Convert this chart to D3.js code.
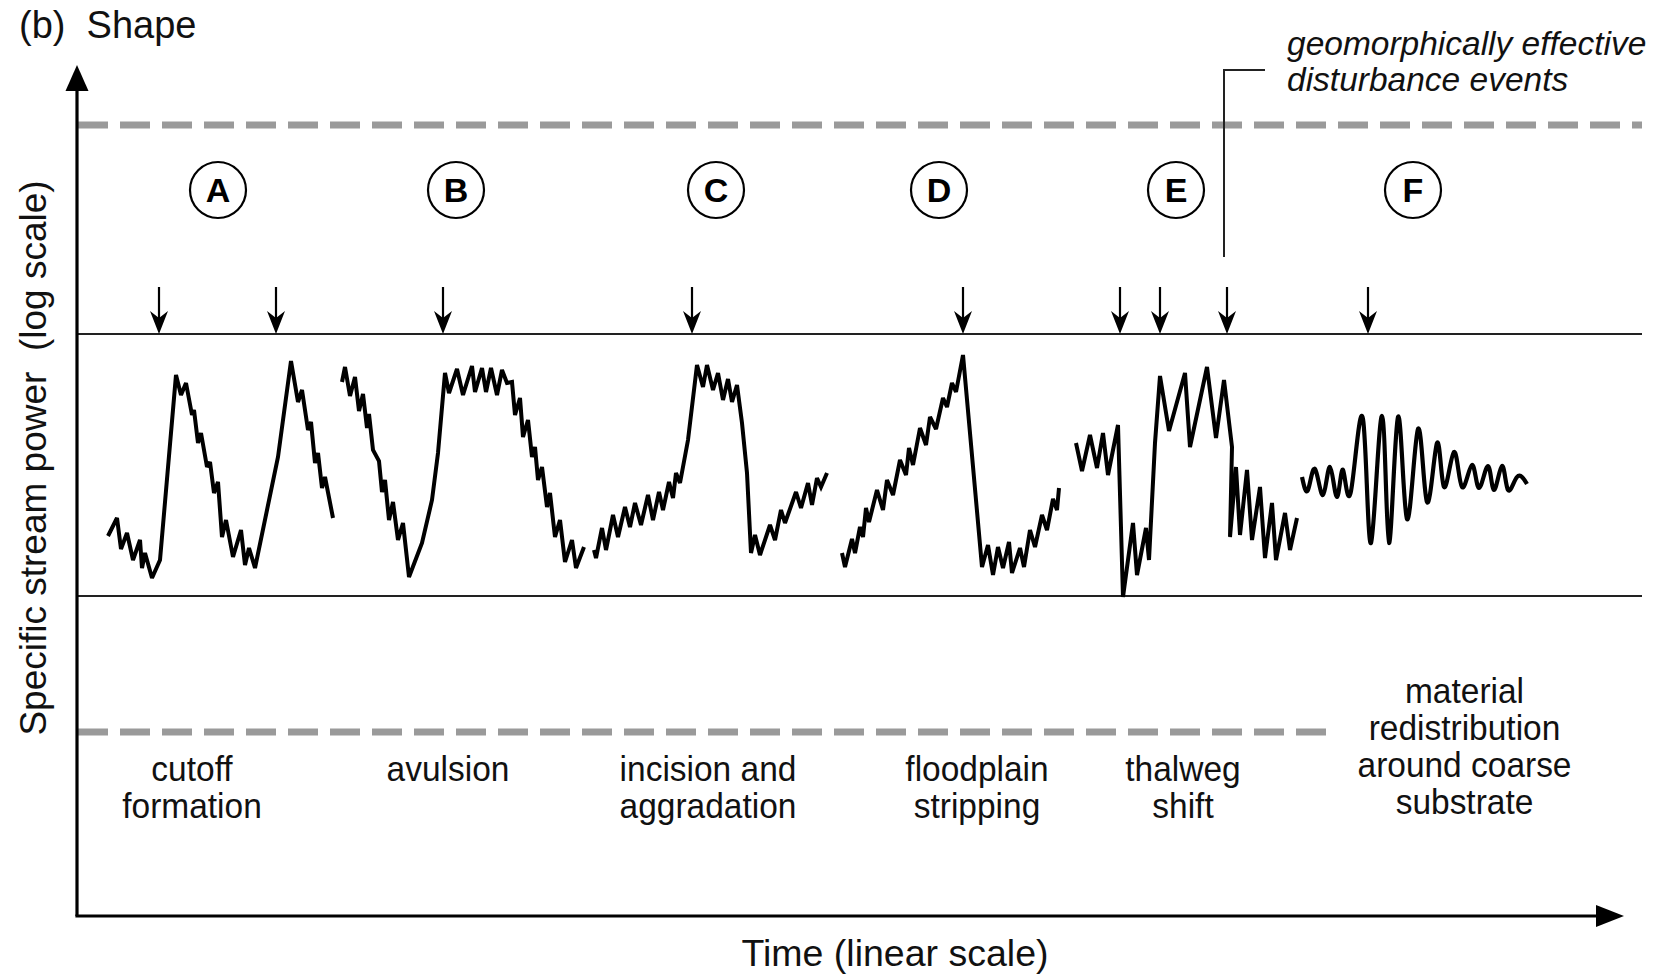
<!DOCTYPE html>
<html><head><meta charset="utf-8">
<script src="https://cdn.jsdelivr.net/npm/d3@7"></script>
<style>
html,body{margin:0;padding:0;background:#fff}
svg{display:block}
text{font-family:"Liberation Sans",Arial,Helvetica,sans-serif;fill:#111}
</style>
</head><body>
<svg id="chart" width="1664" height="975"></svg>
<script>
// ---- data (time in arbitrary units, stream power in arbitrary log units) ----
const segA = [[3.1,38.0],[4.0,39.8],[4.4,36.7],[5.0,38.3],[5.6,35.6],[6.3,37.6],[6.5,34.8],[6.8,36.3],[7.5,33.8],[8.3,35.6],[9.9,54.1],[10.4,52.1],[10.9,53.3],[11.5,50.1],[11.7,50.6],[12.1,47.3],[12.4,48.3],[13.0,44.9],[13.3,45.4],[13.7,42.3],[14.1,43.4],[14.5,37.9],[14.9,39.6],[15.6,35.9],[16.4,38.6],[16.8,35.1],[17.2,36.8],[17.8,34.8],[20.1,45.9],[21.4,55.5],[22.1,51.4],[22.5,52.6],[23.1,48.6],[23.4,49.4],[23.8,45.3],[24.1,46.3],[24.5,42.8],[24.8,43.9],[25.6,39.8]];
const segB = [[26.5,53.4],[26.8,54.9],[27.3,52.0],[27.8,53.9],[28.2,50.5],[28.6,52.2],[29.0,48.8],[29.2,50.2],[29.6,46.6],[30.2,45.5],[30.5,42.4],[30.8,43.6],[31.2,39.6],[31.6,41.4],[32.1,37.6],[32.6,39.3],[33.2,33.9],[34.5,37.3],[35.5,41.6],[36.1,46.3],[36.8,54.3],[37.2,52.3],[38.0,54.7],[38.6,52.1],[39.5,55.0],[39.8,52.4],[40.5,54.8],[40.9,52.4],[41.4,54.8],[42.0,52.1],[42.5,54.6],[43.0,53.3],[43.5,53.4],[43.8,50.1],[44.3,51.8],[44.6,47.9],[45.1,49.6],[45.5,45.9],[45.8,46.9],[46.1,43.6],[46.5,44.9],[47.0,40.9],[47.3,42.3],[47.8,37.9],[48.3,39.6],[48.8,35.4],[49.5,37.6],[49.9,34.8],[50.7,36.9]];
const segC = [[51.7,36.6],[51.9,35.8],[52.5,38.8],[52.9,36.6],[53.6,40.1],[54.1,37.9],[54.8,40.9],[55.3,38.9],[55.8,41.3],[56.4,39.1],[57.1,42.1],[57.6,39.6],[58.2,42.4],[58.6,40.6],[59.2,43.4],[59.6,41.8],[59.9,44.3],[60.3,43.3],[61.1,47.6],[62.0,55.1],[62.6,52.9],[63.0,55.1],[63.6,52.6],[64.1,54.3],[64.6,51.6],[65.1,53.7],[65.5,51.4],[66.0,53.1],[66.5,49.3],[67.0,44.3],[67.4,36.3],[67.8,38.1],[68.3,36.1],[69.3,39.1],[69.8,37.6],[70.4,40.6],[70.8,39.3],[71.9,42.4],[72.4,40.8],[73.1,43.3],[73.5,41.1],[74.0,43.8],[74.4,42.9],[75.0,44.3]];
const segD = [[76.5,36.3],[76.8,34.9],[77.5,37.7],[77.8,36.3],[78.3,38.9],[78.6,37.9],[78.9,40.8],[79.2,39.4],[80.0,42.6],[80.6,40.6],[81.0,43.6],[81.6,42.1],[82.3,45.6],[82.9,44.1],[83.2,46.8],[83.6,45.1],[84.3,48.8],[84.9,47.1],[85.3,49.9],[85.9,48.7],[86.6,51.8],[87.0,50.9],[87.5,53.3],[87.9,52.4],[88.6,56.1],[90.5,34.9],[91.1,37.1],[91.6,34.1],[92.1,36.9],[92.6,34.8],[93.2,37.4],[93.5,34.3],[94.3,36.8],[94.7,34.9],[95.3,38.6],[95.8,36.9],[96.5,40.1],[97.0,38.6],[97.6,41.7],[98.0,40.6],[98.2,42.8]];
const segE = [[99.9,47.3],[100.5,44.5],[101.3,48.1],[102.0,44.8],[102.6,48.3],[103.1,44.1],[104.1,49.1],[104.6,31.9],[105.6,39.3],[106.0,34.1],[106.9,38.8],[107.2,35.6],[107.8,47.3],[108.3,54.0],[109.2,48.5],[110.8,54.3],[111.3,46.9],[113.0,54.9],[113.9,47.8],[114.7,53.6],[115.5,46.9],[115.3,37.9],[115.9,44.9],[116.3,38.1],[117.0,44.6],[117.5,37.6],[118.3,42.9],[118.8,35.8],[119.5,41.3],[119.9,35.6],[120.8,40.3],[121.3,36.6],[122.0,39.8]];
const segF = [[122.5,43.9],[123.1,42.6],[123.8,44.7],[124.6,42.1],[125.3,44.9],[126.0,41.9],[126.6,44.6],[127.4,42.5],[128.6,49.7],[129.4,37.3],[130.5,50.0],[131.2,37.3],[132.1,49.9],[133.0,39.7],[134.1,48.7],[135.0,41.4],[136.0,47.3],[136.7,42.9],[137.7,46.4],[138.5,42.9],[139.5,45.1],[140.2,42.8],[141.1,45.0],[141.7,42.6],[142.5,45.0],[143.1,42.6],[144.0,43.9],[145.0,43.2]];

const eventTimes = [8.2, 19.9, 36.6, 61.5, 88.6, 104.3, 108.3, 115.0, 129.1];
const caseLetters = ["A","B","C","D","E","F"];
const caseTimes = [14.1, 37.9, 63.9, 86.2, 109.9, 133.6];
const processTimes = [11.5, 37.1, 63.1, 90.0, 110.6, 138.75];
const processLabels = [["cutoff","formation"],["avulsion"],["incision and","aggradation"],["floodplain","stripping"],["thalweg","shift"],["material","redistribution","around coarse","substrate"]];
const thresholdSolid = [58.2, 32.0];
const thresholdDashUpper = 79.1;
const thresholdDashLower = 18.4;

// ---- scales ----
const svg = d3.select("#chart");
const x = d3.scaleLinear().domain([0, 155]).range([77, 1627]);
const y = d3.scaleLinear().domain([0, 80]).range([916, 116]);

// ---- threshold lines ----
svg.append("line").attr("x1", x(0.1)).attr("x2", x(156.5))
  .attr("y1", y(thresholdDashUpper)).attr("y2", y(thresholdDashUpper))
  .attr("stroke", "#9a9a9a").attr("stroke-width", 7).attr("stroke-dasharray", "30 12");
svg.append("line").attr("x1", x(0.1)).attr("x2", x(125.5))
  .attr("y1", y(thresholdDashLower)).attr("y2", y(thresholdDashLower))
  .attr("stroke", "#9a9a9a").attr("stroke-width", 7).attr("stroke-dasharray", "30 12");
svg.selectAll("line.solid").data(thresholdSolid).enter().append("line")
  .attr("class", "solid")
  .attr("x1", x(0)).attr("x2", x(156.5))
  .attr("y1", d => y(d)).attr("y2", d => y(d))
  .attr("stroke", "#222").attr("stroke-width", 2);

// ---- axes ----
const axisTop = 85.1, axisEnd = 154.7;
svg.append("line").attr("x1", x(0)).attr("x2", x(0)).attr("y1", y(0)).attr("y2", y(axisTop) + 20)
  .attr("stroke", "#000").attr("stroke-width", 3.2);
svg.append("path").attr("d", `M${x(0)},${y(axisTop)} L${x(0)-11.5},${y(axisTop)+26} L${x(0)+11.5},${y(axisTop)+26} Z`).attr("fill", "#000");
svg.append("line").attr("x1", x(0)-1.6).attr("x2", x(axisEnd) - 22).attr("y1", y(0)).attr("y2", y(0))
  .attr("stroke", "#000").attr("stroke-width", 3.2);
svg.append("path").attr("d", `M${x(axisEnd)},${y(0)} L${x(axisEnd)-28},${y(0)-11} L${x(axisEnd)-28},${y(0)+11} Z`).attr("fill", "#000");

// ---- curves ----
const line = d3.line().x(d => x(d[0])).y(d => y(d[1]));
[segA, segB, segC, segD, segE].forEach(seg => {
  svg.append("path").datum(seg).attr("d", line)
    .attr("fill", "none").attr("stroke", "#000").attr("stroke-width", 4)
    .attr("stroke-linejoin", "miter").attr("stroke-miterlimit", 2.5);
});
svg.append("path").datum(segF).attr("d", d3.line().x(d => x(d[0])).y(d => y(d[1])).curve(d3.curveNatural))
  .attr("fill", "none").attr("stroke", "#000").attr("stroke-width", 4.2);

// ---- event arrows ----
const arrowTopV = 62.9, arrowTipV = thresholdSolid[0];
const ev = svg.selectAll("g.ev").data(eventTimes).enter().append("g").attr("class", "ev");
ev.append("line").attr("x1", d => x(d)).attr("x2", d => x(d))
  .attr("y1", y(arrowTopV)).attr("y2", y(arrowTipV) - 10)
  .attr("stroke", "#000").attr("stroke-width", 2.2);
ev.append("path").attr("d", d => {
  const cx = x(d), ty = y(arrowTipV);
  return `M${cx},${ty} L${cx-9},${ty-23} L${cx},${ty-16} L${cx+9},${ty-23} Z`;
}).attr("fill", "#000");

// ---- case circles ----
const cg = svg.selectAll("g.case").data(caseLetters).enter().append("g").attr("class", "case")
  .attr("transform", (d, i) => `translate(${x(caseTimes[i])},${y(72.6)})`);
cg.append("circle").attr("r", 28).attr("fill", "#fff").attr("stroke", "#000").attr("stroke-width", 2.2);
cg.append("text").text(d => d).attr("text-anchor", "middle").attr("dy", "0.36em")
  .attr("font-size", 34).attr("font-weight", "bold").style("fill", "#000");

// ---- leader line + annotation ----
svg.append("path").attr("d", `M${x(114.7)},${y(65.9)} L${x(114.7)},${y(84.6)} L${x(118.8)},${y(84.6)}`)
  .attr("fill", "none").attr("stroke", "#222").attr("stroke-width", 2);
const ann = svg.append("text").attr("font-size", 33.5).attr("font-style", "italic");
ann.append("tspan").attr("x", x(121.0)).attr("y", y(86.1)).text("geomorphically effective");
ann.append("tspan").attr("x", x(121.0)).attr("y", y(82.5)).text("disturbance events");

// ---- process labels ----
const lineGap = 37;
processLabels.forEach((lines, i) => {
  const n = lines.length;
  const firstBase = n === 4 ? y(21.3) : y(13.5);
  lines.forEach((t, j) => {
    svg.append("text")
      .attr("transform", `translate(${x(processTimes[i])},${firstBase + j * lineGap}) scale(0.93,1)`)
      .attr("text-anchor", "middle").attr("font-size", 36).text(t);
  });
});

// ---- titles ----
svg.append("text").attr("x", 19).attr("y", 38).attr("font-size", 38)
  .style("white-space", "pre").text("(b)  Shape");
svg.append("text").attr("transform", `translate(${x(81.8)},966)`).attr("text-anchor", "middle")
  .attr("font-size", 37.5).text("Time (linear scale)");
svg.append("text").attr("transform", `translate(46,${y(45.8)}) rotate(-90)`).attr("text-anchor", "middle")
  .attr("font-size", 37).style("white-space", "pre").text("Specific stream power  (log scale)");
</script>
</body></html>
